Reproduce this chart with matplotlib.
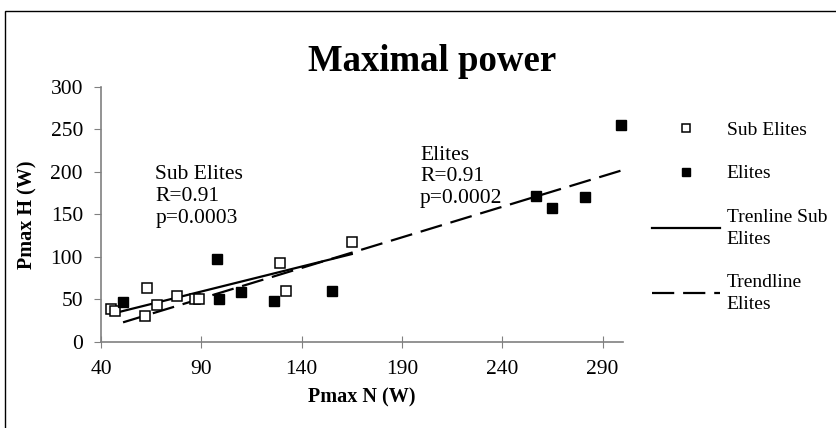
import numpy as np
import matplotlib
matplotlib.use("Agg")
import matplotlib.pyplot as plt
from matplotlib.patches import Rectangle

plt.rcParams["font.family"] = ["Liberation Serif", "DejaVu Serif"]

# Sub Elites
sub_x = [45, 47, 62, 63, 68, 78, 87, 89, 129, 132, 165]
sub_y = [39, 37, 31, 63, 43, 54, 50, 50, 93, 60, 118]

# Elites
eli_x = [51, 98, 99, 110, 126, 155, 257, 265, 281, 299]
eli_y = [47, 98, 50, 59, 48, 60, 172, 157, 170, 255]

x_ticks = [40, 90, 140, 190, 240, 290]
y_ticks = [0, 50, 100, 150, 200, 250, 300]

fig = plt.figure(figsize=(8.36, 4.28), dpi=100)
ax = fig.add_axes([0.1208, 0.201, 0.624, 0.596])

ax.plot(sub_x, sub_y, linestyle="none", marker="s", markersize=7.5,
        markerfacecolor="white", markeredgecolor="black", markeredgewidth=1.1,
        label="Sub Elites", zorder=3, clip_on=False)
ax.plot(eli_x, eli_y, linestyle="none", marker="s", markersize=7.5,
        markerfacecolor="black", markeredgecolor="black",
        label="Elites", zorder=3, clip_on=False)

# linear trendlines
a, b = np.polyfit(sub_x, sub_y, 1)
xs = np.array([min(sub_x), max(sub_x)])
ax.plot(xs, a * xs + b, color="black", lw=1.6, label="Trenline Sub\nElites")

a, b = np.polyfit(eli_x, eli_y, 1)
xe = np.array([min(eli_x), max(eli_x)])
ax.plot(xe, a * xe + b, color="black", lw=1.6, dashes=(10, 4),
        label="Trendline\nElites")

ax.set_xlim(40, 300)
ax.set_ylim(0, 300)
ax.set_xticks(x_ticks)
ax.set_yticks(y_ticks)
ax.tick_params(labelsize=15.5, colors="black")
ax.tick_params(axis="x", direction="inout", length=8, color="#808080", pad=9)
ax.tick_params(axis="y", direction="out", length=5, color="#808080", pad=8)
for s in ["top", "right"]:
    ax.spines[s].set_visible(False)
for s in ["left", "bottom"]:
    ax.spines[s].set_color("#808080")
    ax.spines[s].set_linewidth(1.2)

ax.set_xlabel("Pmax N (W)", fontsize=14.5, fontweight="bold", labelpad=6)
ax.set_ylabel("Pmax H (W)", fontsize=14.5, fontweight="bold", labelpad=9)
fig.text(0.517, 0.857, "Maximal power", fontsize=26.5, fontweight="bold",
         ha="center", va="center")

ax.text(67, 208, "Sub Elites\nR=0.91\np=0.0003", fontsize=15.5,
        va="top", linespacing=1.2)
ax.text(199, 231, "Elites\nR=0.91\np=0.0002", fontsize=15.5,
        va="top", linespacing=1.2)

leg = fig.legend(loc="upper left", bbox_to_anchor=(0.768, 0.740), frameon=False,
                 fontsize=14, handlelength=3.5, handletextpad=0.35,
                 labelspacing=1.35, markerscale=0.75, borderpad=0)
for t in leg.get_texts():
    t.set_linespacing(1.38)

fig.patches.append(Rectangle((0.006, -0.1), 1.1, 1.074, transform=fig.transFigure,
                             fill=False, edgecolor="black", lw=1))

plt.savefig("out.png", dpi=100)
